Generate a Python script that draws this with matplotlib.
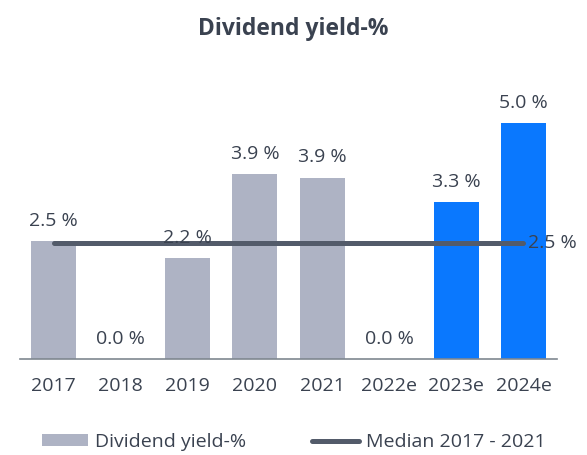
import matplotlib.pyplot as plt
import numpy as np

plt.rcParams['font.family'] = ['Open Sans', 'DejaVu Sans']

years = ['2017', '2018', '2019', '2020', '2021', '2022e', '2023e', '2024e']
yields = [2.5, 0.0, 2.15, 3.93, 3.85, 0.0, 3.33, 5.0]
labels = ['2.5 %', '0.0 %', '2.2 %', '3.9 %', '3.9 %', '0.0 %', '3.3 %', '5.0 %']
estimate = [False, False, False, False, False, True, True, True]
median_value = 2.47
median_label = '2.5 %'

GRAY = '#aeb3c4'
BLUE = '#0a78fe'
DARK = '#535b6a'
TEXT = '#3a4250'

fig = plt.figure(figsize=(5.87, 4.55), dpi=100)
ax = fig.add_axes([0.034, 0.211, 0.915, 0.58])

x = np.arange(len(years))
colors = [BLUE if e else GRAY for e in estimate]
bars = ax.bar(x, yields, width=0.67, color=colors)

for xi, v, lab in zip(x, yields, labels):
    ax.annotate(lab, (xi, v), xytext=(0, 8), textcoords='offset points',
                ha='center', va='bottom', fontsize=14, color=TEXT)

line, = ax.plot([x[0], x[-1]], [median_value, median_value], color=DARK, lw=3.6,
                solid_capstyle='round')
ax.annotate(median_label, (x[-1], median_value), xytext=(3, 0),
            textcoords='offset points', ha='left', va='center',
            fontsize=14, color=TEXT)

ax.set_xlim(-0.5, 7.5)
ax.set_ylim(0, 5.6)
ax.set_xticks(x)
ax.set_xticklabels(years, fontsize=14, color=TEXT)
ax.tick_params(axis='x', length=0, pad=13)
ax.set_yticks([])
for s in ['top', 'right', 'left']:
    ax.spines[s].set_visible(False)
ax.spines['bottom'].set_color('#7f8790')
ax.spines['bottom'].set_linewidth(1.2)

fig.text(0.5, 0.936, 'Dividend yield-%', ha='center', va='center',
         fontsize=16.5, fontweight='bold', color=TEXT)

leg = fig.legend([bars, line], ['Dividend yield-%', 'Median 2017 - 2021'],
                 loc='lower center', bbox_to_anchor=(0.5, -0.03), ncol=2,
                 frameon=False, fontsize=14, handlelength=2.4,
                 handleheight=0.6, handletextpad=0.35, columnspacing=3.4)
for t in leg.get_texts():
    t.set_color(TEXT)

fig.savefig('out.png', dpi=100)
